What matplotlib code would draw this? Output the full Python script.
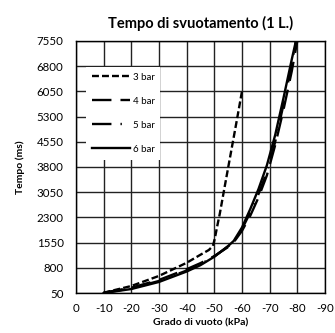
import matplotlib
matplotlib.use('Agg')
import matplotlib.pyplot as plt

plt.rcParams['font.family'] = ['Lato', 'DejaVu Sans']
plt.rcParams['lines.scale_dashes'] = False

# dati (kPa negativi, tempo in ms)
x_3bar = [-10, -20, -30, -40, -45, -48, -49.5, -50.2, -51, -52, -54, -56, -58, -60]
y_3bar = [60, 260, 560, 950, 1190, 1330, 1450, 1680, 2020, 2420, 3330, 4230, 5130, 6050]

x_4bar = [-10, -20, -30, -40, -45, -50, -55, -57, -60, -63, -66, -69, -72, -75, -78, -80]
y_4bar = [60, 210, 440, 760, 940, 1150, 1420, 1560, 1900, 2350, 2900, 3550, 4450, 5500, 6650, 7550]

x_5bar = [-10, -20, -30, -40, -45, -50, -55, -57, -60, -63, -66, -69, -72, -75, -78, -79.5]
y_5bar = [55, 190, 410, 720, 910, 1140, 1440, 1580, 1950, 2450, 3000, 3650, 4550, 5650, 6850, 7550]

x_6bar = [-10, -20, -30, -40, -45, -50, -55, -57, -60, -63, -66, -69, -72, -75, -78, -79.5]
y_6bar = [50, 170, 380, 690, 880, 1130, 1450, 1600, 2000, 2550, 3150, 3850, 4750, 5850, 7000, 7550]

y_ticks = [50, 800, 1550, 2300, 3050, 3800, 4550, 5300, 6050, 6800, 7550]
x_ticks = [0, -10, -20, -30, -40, -50, -60, -70, -80, -90]

fig = plt.figure(figsize=(3.35, 3.33), dpi=100)
ax = fig.add_axes([0.227, 0.120, 0.743, 0.757])

lw = 1.7
ax.plot(x_3bar, y_3bar, color='black', lw=lw, dashes=(5, 2.2), label='3 bar')
ax.plot(x_4bar, y_4bar, color='black', lw=lw, dashes=(14, 6.5), label='4 bar')
ax.plot(x_5bar, y_5bar, color='black', lw=lw, dashes=(14, 6.5, 1, 6.5), label='5 bar')
ax.plot(x_6bar, y_6bar, color='black', lw=lw, label='6 bar')

ax.set_xlim(0, -90)
ax.set_ylim(50, 7550)
ax.set_xticks(x_ticks)
ax.set_yticks(y_ticks)
ax.set_xticklabels([str(v) for v in x_ticks])
ax.tick_params(length=0, labelsize=8.3)
ax.tick_params(axis='y', pad=9)
ax.tick_params(axis='x', pad=7)
ax.grid(True, color='#222222', lw=1)
ax.set_axisbelow(True)
for s in ax.spines.values():
    s.set_color('black')
    s.set_linewidth(1)

ax.set_title('Tempo di svuotamento (1 L.)', fontsize=10.5, fontweight='bold', pad=9)
ax.set_xlabel('Grado di vuoto (kPa)', fontsize=7.5, fontweight='bold', labelpad=3)
ax.set_ylabel('Tempo (ms)', fontsize=7.5, fontweight='bold', labelpad=8)

leg = ax.legend(loc='upper left', bbox_to_anchor=(0.02, 0.917), fontsize=7,
                handlelength=3.9, labelspacing=1.55, frameon=True, fancybox=False,
                borderpad=0.6, handletextpad=0.3)
leg.get_frame().set_facecolor('white')
leg.get_frame().set_edgecolor('none')
leg.get_frame().set_alpha(1)

plt.savefig('out.png', dpi=100)
